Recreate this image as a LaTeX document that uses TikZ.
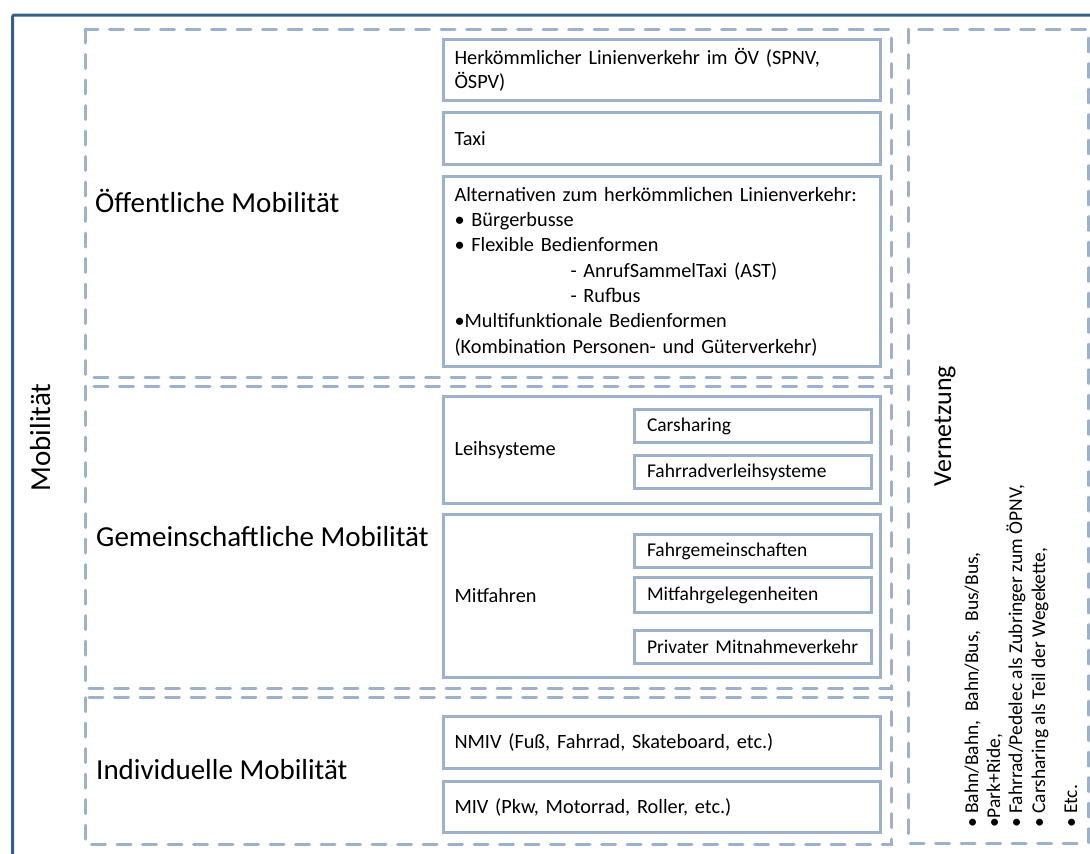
\documentclass[tikz,border=0pt]{standalone}
\usepackage{fontspec}
\setmainfont{Carlito}
\usepackage{tikz}
\usetikzlibrary{positioning}
\definecolor{myframe}{RGB}{56,93,138}
\definecolor{myline}{RGB}{158,177,204}
\newcommand{\boxfont}{\fontsize{20.3}{25.3}\selectfont}
\newcommand{\subfont}{\fontsize{19.5}{24}\selectfont}
\newcommand{\grpfont}{\fontsize{29}{34}\selectfont}
\tikzstyle{group}=[draw=myline, line width=3pt, dash pattern=on 14pt off 11.5pt, line cap=round]
\tikzstyle{mainbox}=[draw=myline, line width=2.6pt, rectangle, outer sep=0pt, inner xsep=11pt, minimum width=437pt, text width=415pt, align=left, font=\boxfont]
\tikzstyle{subbox}=[mainbox, minimum width=237pt, text width=212pt, inner xsep=12.5pt, minimum height=33pt, font=\subfont]
\tikzstyle{grouplabel}=[anchor=base west, inner sep=0pt, font=\grpfont]
\tikzstyle{vlist}=[rotate=90, anchor=base west, inner sep=0pt, font=\subfont]

\begin{document}
\begin{tikzpicture}[
    x=1pt, y=-1pt,
    node distance=12pt]

\useasboundingbox (0,0) rectangle (1090,854);

% frame
\draw[myframe, line width=3pt, rounded corners=2pt] (12.5,860) -- (12.5,15) -- (1100,15);
\node[rotate=90, anchor=base, inner sep=0pt, font=\grpfont] (mob) at (50,437.5) {Mobilität};

% groups
\draw[group] (85,29) rectangle (891,377);
\draw[group] (85,386) rectangle (891,688);
\draw[group] (85,697.5) rectangle (891,844);
\draw[group] (908,29) rectangle (1088,843);

\node[grouplabel] (oeff) at (95,212) {Öffentliche Mobilität};
\node[grouplabel] (gem) at (96,546) {Gemeinschaftliche Mobilität};
\node[grouplabel] (ind) at (96,779) {Individuelle Mobilität};

% Oeffentliche Mobilitaet
\node[mainbox, minimum height=61pt, font=\fontsize{20.3}{24}\selectfont] (hlv) at (662,70) {Herkömmlicher Linienverkehr im ÖV (SPNV,\\ÖSPV)};
\node[mainbox, minimum height=52pt] (taxi) [below=of hlv] {Taxi};
\node[mainbox, minimum height=190pt] (alt) [below=of taxi] {Alternativen zum herkömmlichen Linienverkehr:\\
  • Bürgerbusse\\
  • Flexible Bedienformen\\
  \hspace*{116pt}- AnrufSammelTaxi (AST)\\
  \hspace*{116pt}- Rufbus\\
  •Multifunktionale Bedienformen\\
  (Kombination Personen- und Güterverkehr)};

% Gemeinschaftliche Mobilitaet
\node[mainbox, minimum height=107pt] (leih) at (662,450) {Leihsysteme};
\node[mainbox, minimum height=163pt] (mitf) [below=11pt of leih] {Mitfahren};
\node[subbox] (cs) at (753,426) {Carsharing};
\node[subbox] (fv) [below=13pt of cs] {Fahrradverleihsysteme};
\node[subbox] (fg) at (753,551) {Fahrgemeinschaften};
\node[subbox, minimum height=35pt] (mg) [below=10pt of fg] {Mitfahrgelegenheiten};
\node[subbox] (pm) [below=18pt of mg] {Privater Mitnahmeverkehr};

% Individuelle Mobilitaet
\node[mainbox, minimum height=52pt] (nmiv) at (662,742.5) {NMIV (Fuß, Fahrrad, Skateboard, etc.)};
\node[mainbox, minimum height=51pt] (miv) [below=13pt of nmiv] {MIV (Pkw, Motorrad, Roller, etc.)};

% Vernetzung
\node[rotate=90, anchor=base, inner sep=0pt, font=\fontsize{26}{30}\selectfont] (vern) at (951,426) {Vernetzung};
\node[vlist] (v1) at (978,828) {• Bahn/Bahn,\ \ Bahn/Bus,\ \ Bus/Bus,};
\node[vlist] (v2) at (1000,828) {•Park+Ride,};
\node[vlist] (v3) at (1022,828) {• Fahrrad/Pedelec als Zubringer zum ÖPNV,};
\node[vlist] (v4) at (1045,828) {• Carsharing als Teil der Wegekette,};
\node[vlist] (v5) at (1077,828) {• Etc.};

\end{tikzpicture}
\end{document}
